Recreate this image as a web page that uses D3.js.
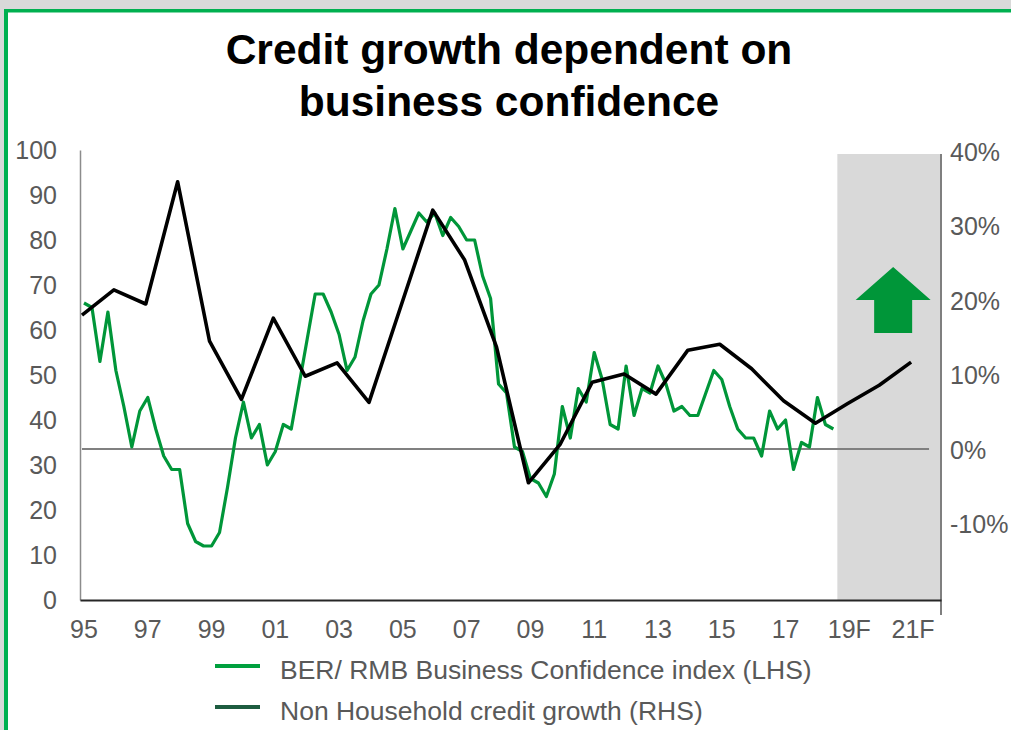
<!DOCTYPE html>
<html>
<head>
<meta charset="utf-8">
<script src="https://cdn.jsdelivr.net/npm/d3@7"></script>
<style>
  html, body { margin: 0; padding: 0; background: #d9d9d9; }
  svg { display: block; font-family: "Liberation Sans", Arial, sans-serif; }
</style>
</head>
<body>
<svg id="chart" width="1011" height="730"></svg>
<script>
// Years covered by the quarterly category axis (1995Q1 .. 2021Q4)
const years = [1995, 1996, 1997, 1998, 1999, 2000, 2001, 2002, 2003, 2004, 2005, 2006, 2007,
  2008, 2009, 2010, 2011, 2012, 2013, 2014, 2015, 2016, 2017, 2018, 2019, 2020, 2021];

// BER/RMB Business Confidence index, quarterly from 1995Q1 (LHS)
const confidence = [
  66, 65, 53, 64, 51, 43, 34, 42, 45, 38,
  32, 29, 29, 17, 13, 12, 12, 15, 25, 36,
  44, 36, 39, 30, 33, 39, 38, 48, 58, 68,
  68, 64, 59, 51, 54, 62, 68, 70, 78, 87,
  78, 82, 86, 84, 86, 81, 85, 83, 80, 80,
  72, 67, 48, 46, 34, 33, 27, 26, 23, 28,
  43, 36, 47, 44, 55, 49, 39, 38, 52, 41,
  47, 46, 52, 48, 42, 43, 41, 41, 46, 51,
  49, 43, 38, 36, 36, 32, 42, 38, 40, 29,
  35, 34, 45, 39, 38
];

// Non household credit growth (%), annual, 2019-2021 forecast (RHS)
const creditGrowth = [18.1, 21.5, 19.6, 36.0, 14.6, 6.8, 17.7, 9.9, 11.7, 6.4, 19.3, 32.2, 25.5,
  13.8, -4.4, 0.8, 9.1, 10.2, 7.5, 13.4, 14.2, 10.9, 6.6, 3.6, 6.2, 8.7, 11.8];

// Axis tick labels
const tickYears = [1995, 1997, 1999, 2001, 2003, 2005, 2007, 2009, 2011, 2013, 2015, 2017, 2019, 2021];
const tickText = ["95", "97", "99", "01", "03", "05", "07", "09", "11", "13", "15", "17", "19F", "21F"];
const leftTicks = [0, 10, 20, 30, 40, 50, 60, 70, 80, 90, 100];
const rightTicks = [-10, 0, 10, 20, 30, 40];

const forecastStart = "2018Q4";
const zeroLineEnd = "2021Q3";

const seriesNames = ["BER/ RMB Business Confidence index (LHS)", "Non Household credit growth (RHS)"];

// ---------------------------------------------------------------------------
const quarters = years.flatMap(y => [1, 2, 3, 4].map(q => `${y}Q${q}`));

const svg = d3.select("#chart");

const plot = { left: 80, right: 941, top: 150, bottom: 600 };

const x = d3.scaleBand().domain(quarters).range([plot.left, plot.right]).padding(0);
const cx = q => x(q) + x.bandwidth() / 2;
const yL = d3.scaleLinear().domain([0, 100]).range([plot.bottom, plot.top]);
const yR = d3.scaleLinear().domain([-20, 40]).range([599, 152]);

// Frame: white panel with a green border on the top and left
svg.append("rect").attr("x", 4).attr("y", 9).attr("width", 1011).attr("height", 730).attr("fill", "#00b050");
svg.append("rect").attr("x", 8).attr("y", 12.5).attr("width", 1011).attr("height", 730).attr("fill", "#ffffff");

// Title
const title = svg.append("text")
  .attr("x", 509).attr("text-anchor", "middle")
  .attr("font-size", 42.5).attr("font-weight", "bold").attr("fill", "#000");
title.append("tspan").attr("x", 509).attr("y", 64).text("Credit growth dependent on");
title.append("tspan").attr("x", 509).attr("y", 116).text("business confidence");

// Forecast shading
svg.append("rect")
  .attr("x", x(forecastStart))
  .attr("y", yR(40) + 2)
  .attr("width", plot.right - x(forecastStart))
  .attr("height", plot.bottom - yR(40) - 2)
  .attr("fill", "#d9d9d9");

// Upward arrow in the forecast period
const ax = cx("2020Q3") - 4;
const arrow = [
  [ax, 267], [ax + 37.5, 300], [ax + 19, 300], [ax + 19, 333],
  [ax - 19, 333], [ax - 19, 300], [ax - 37.5, 300]
];
svg.append("polygon").attr("points", arrow.map(p => p.join(",")).join(" ")).attr("fill", "#009639");

// Zero-growth reference line
svg.append("line")
  .attr("x1", cx(quarters[0]) - 2).attr("x2", cx(zeroLineEnd))
  .attr("y1", yR(0) - 1).attr("y2", yR(0) - 1)
  .attr("stroke", "#808080").attr("stroke-width", 2);

// Axes
const leftAxis = svg.append("g").attr("transform", `translate(${plot.left},0)`)
  .call(d3.axisLeft(yL).tickValues(leftTicks).tickSize(0).tickPadding(23));
leftAxis.select(".domain").attr("stroke", "#8c8c8c").attr("stroke-width", 1.5);
leftAxis.selectAll("text").attr("font-size", 25).attr("fill", "#595959")
  .attr("font-family", "'Liberation Sans', Arial, sans-serif");

const rightAxis = svg.append("g").attr("transform", `translate(${plot.right},0)`)
  .call(d3.axisRight(yR).tickValues(rightTicks).tickSize(0).tickPadding(9).tickFormat(d => d + "%"));
rightAxis.select(".domain").remove();
rightAxis.append("line").attr("x1", 0).attr("x2", 0).attr("y1", yR(40) + 2).attr("y2", 615)
  .attr("stroke", "#7f7f7f").attr("stroke-width", 2);
rightAxis.selectAll("text").attr("font-size", 25).attr("fill", "#595959")
  .attr("font-family", "'Liberation Sans', Arial, sans-serif");

const bottomAxis = svg.append("g").attr("transform", `translate(0,${plot.bottom})`)
  .call(d3.axisBottom(x).tickValues(tickYears.map(y => `${y}Q1`)).tickSize(0).tickPadding(20)
    .tickFormat((d, i) => tickText[i]));
bottomAxis.select(".domain").attr("stroke", "#262626").attr("stroke-width", 2);
bottomAxis.selectAll(".tick").attr("transform", d => `translate(${cx(d)},0)`);
bottomAxis.selectAll("text").attr("font-size", 25).attr("fill", "#595959")
  .attr("font-family", "'Liberation Sans', Arial, sans-serif");

// Business confidence (LHS)
const confPts = confidence.map((v, i) => ({ q: quarters[i], v }));
svg.append("path").datum(confPts)
  .attr("fill", "none").attr("stroke", "#009639").attr("stroke-width", 3.2)
  .attr("stroke-linejoin", "round")
  .attr("d", d3.line().x(d => cx(d.q)).y(d => yL(d.v)));

// Credit growth (RHS)
const creditPts = creditGrowth.map((v, i) => ({ q: `${years[i]}Q1`, v }));
svg.append("path").datum(creditPts)
  .attr("fill", "none").attr("stroke", "#000000").attr("stroke-width", 3.6)
  .attr("stroke-linejoin", "round")
  .attr("d", d3.line().x(d => cx(d.q) - 2).y(d => yR(d.v)));

// Legend
const legendColors = ["#00a03e", "#1d5c40"];
const legend = svg.append("g");
seriesNames.forEach((name, i) => {
  const ly = 666 + i * 41;
  legend.append("line").attr("x1", 215).attr("x2", 260).attr("y1", ly).attr("y2", ly)
    .attr("stroke", legendColors[i]).attr("stroke-width", 4);
  legend.append("text").attr("x", 280).attr("y", ly + 13)
    .attr("font-size", 26.5).attr("fill", "#595959").text(name);
});
</script>
</body>
</html>
